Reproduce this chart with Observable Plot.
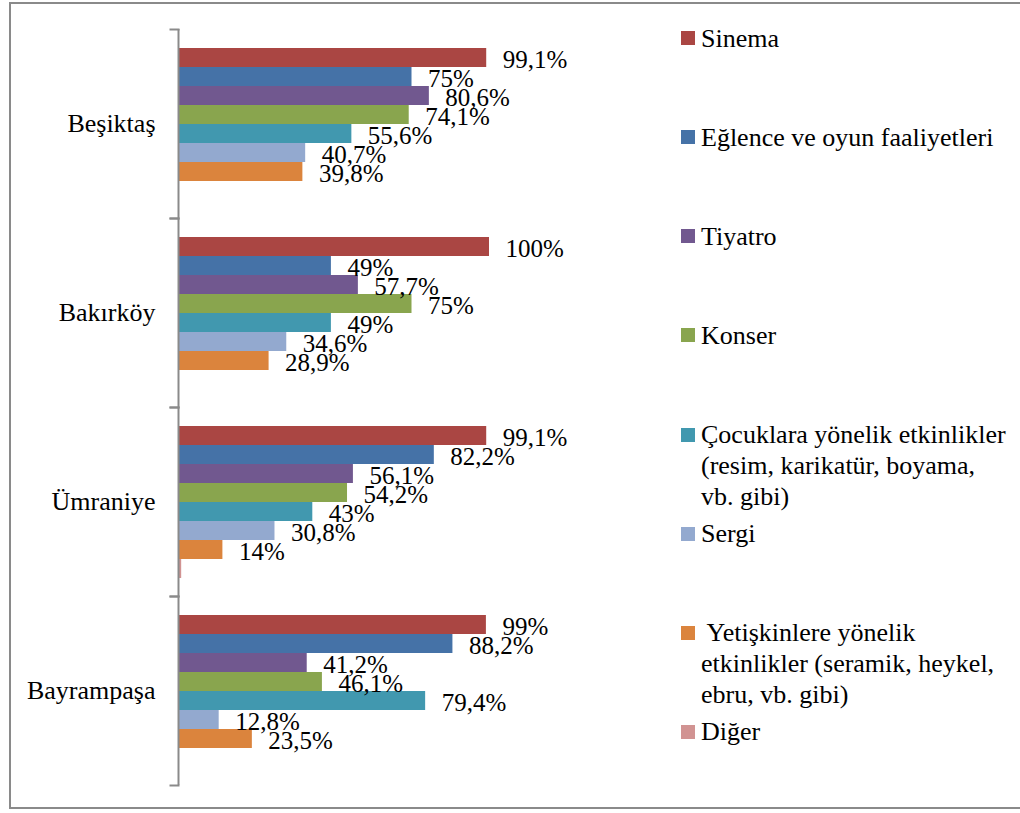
<!DOCTYPE html>
<html>
<head>
<meta charset="utf-8">
<script src="https://cdn.jsdelivr.net/npm/d3@7"></script>
<script src="https://cdn.jsdelivr.net/npm/@observablehq/plot@0.6"></script>
<style>
  html, body { margin: 0; padding: 0; background: #fff; overflow: hidden; }
  #wrap { position: relative; width: 1020px; height: 813px; font-family: "Liberation Serif", "DejaVu Serif", serif; }
  #border { position: absolute; left: 9px; top: 2px; width: 1030px; height: 807px; border: 2px solid #8a8a8a; box-sizing: border-box; }
  #chart { position: absolute; left: 0; top: 0; }
  #legend { position: absolute; left: 681px; top: 22.5px; }
  .item { height: 99.14px; display: flex; align-items: flex-start; }
  .sw { width: 14px; height: 14px; margin-top: 8.5px; margin-right: 6px; flex: none; }
  .lab { font-size: 26px; line-height: 31px; color: #000; white-space: pre; font-family: "Liberation Serif", "DejaVu Serif", serif; }
  #probe { position: absolute; left: 0; top: 0; font-size: 10px; }
</style>
</head>
<body>
<div id="wrap">
  <div id="border"></div>
  <div id="chart"></div>
  <div id="legend"></div>
</div>
<script>
const districts = ["Beşiktaş", "Bakırköy", "Ümraniye", "Bayrampaşa"];
const series = [
  "Sinema",
  "Eğlence ve oyun faaliyetleri",
  "Tiyatro",
  "Konser",
  "Çocuklara yönelik etkinlikler (resim, karikatür, boyama, vb. gibi)",
  "Sergi",
  " Yetişkinlere yönelik etkinlikler (seramik, heykel, ebru, vb. gibi)",
  "Diğer"
];
const legendLabels = [
  "Sinema",
  "Eğlence ve oyun faaliyetleri",
  "Tiyatro",
  "Konser",
  "Çocuklara yönelik etkinlikler\n(resim, karikatür, boyama,\nvb. gibi)",
  "Sergi",
  " Yetişkinlere yönelik\netkinlikler (seramik, heykel,\nebru, vb. gibi)",
  "Diğer"
];
const colors = ["#AA4643", "#4572A7", "#71588F", "#89A54E", "#4198AF", "#93A9CF", "#DB843D", "#D19392"];

const besiktas   = [99.1, 75, 80.6, 74.1, 55.6, 40.7, 39.8, 0];
const bakirkoy   = [100, 49, 57.7, 75, 49, 34.6, 28.9, 0];
const umraniye   = [99.1, 82.2, 56.1, 54.2, 43, 30.8, 14, 0.7];
const bayrampasa = [99, 88.2, 41.2, 46.1, 79.4, 12.8, 23.5, 0];
const values = [besiktas, bakirkoy, umraniye, bayrampasa];

const data = districts.flatMap((d, i) => series.map((s, j) => ({district: d, series: s, value: values[i][j]})));
const labelData = data.filter(d => d.series !== "Diğer");
const fmt = v => String(v).replace(".", ",") + "%";

const W = 1020, H = 813, ML = 170, MR = 360;
const axisColor = "#8a8a8a";
const serifFamily = "'Liberation Serif', 'DejaVu Serif', serif";

const chart = Plot.plot({
  width: W,
  height: H,
  marginLeft: ML,
  marginRight: MR,
  marginTop: 27,
  marginBottom: 27,
  style: {fontFamily: serifFamily, background: "transparent", color: "#000", overflow: "visible"},
  x: {domain: [0, 100], range: [179, 489], axis: null},
  y: {domain: series, paddingInner: 0, paddingOuter: 0.74, axis: null},
  fy: {domain: districts, padding: 0, axis: null},
  color: {domain: series, range: colors},
  marks: [
    Plot.barX(data, {x: "value", y: "series", fy: "district", fill: "series"}),
    Plot.ruleX([0], {stroke: axisColor, strokeWidth: 2, dx: -1}),
    Plot.frame({anchor: "top", stroke: axisColor, strokeWidth: 2, insetRight: W - MR - 178}),
    Plot.frame({anchor: "bottom", stroke: axisColor, strokeWidth: 2, insetRight: W - MR - 178}),
    Plot.text(labelData, {x: "value", y: "series", fy: "district", text: d => fmt(d.value), dx: 16, dy: 2, textAnchor: "start", fontSize: 25, fill: "#000", fontFamily: serifFamily}),
    Plot.axisFy({anchor: "left", tickSize: 0, tickPadding: 15, fontSize: 26, fill: "#000", label: null, fontFamily: serifFamily})
  ]
});
document.getElementById("chart").appendChild(chart);

const legend = document.getElementById("legend");
series.forEach((s, i) => {
  const item = document.createElement("div");
  item.className = "item";
  const sw = document.createElement("div");
  sw.className = "sw";
  sw.style.background = colors[i];
  const lab = document.createElement("div");
  lab.className = "lab";
  lab.textContent = legendLabels[i];
  item.appendChild(sw);
  item.appendChild(lab);
  legend.appendChild(item);
});
</script>
</body>
</html>
